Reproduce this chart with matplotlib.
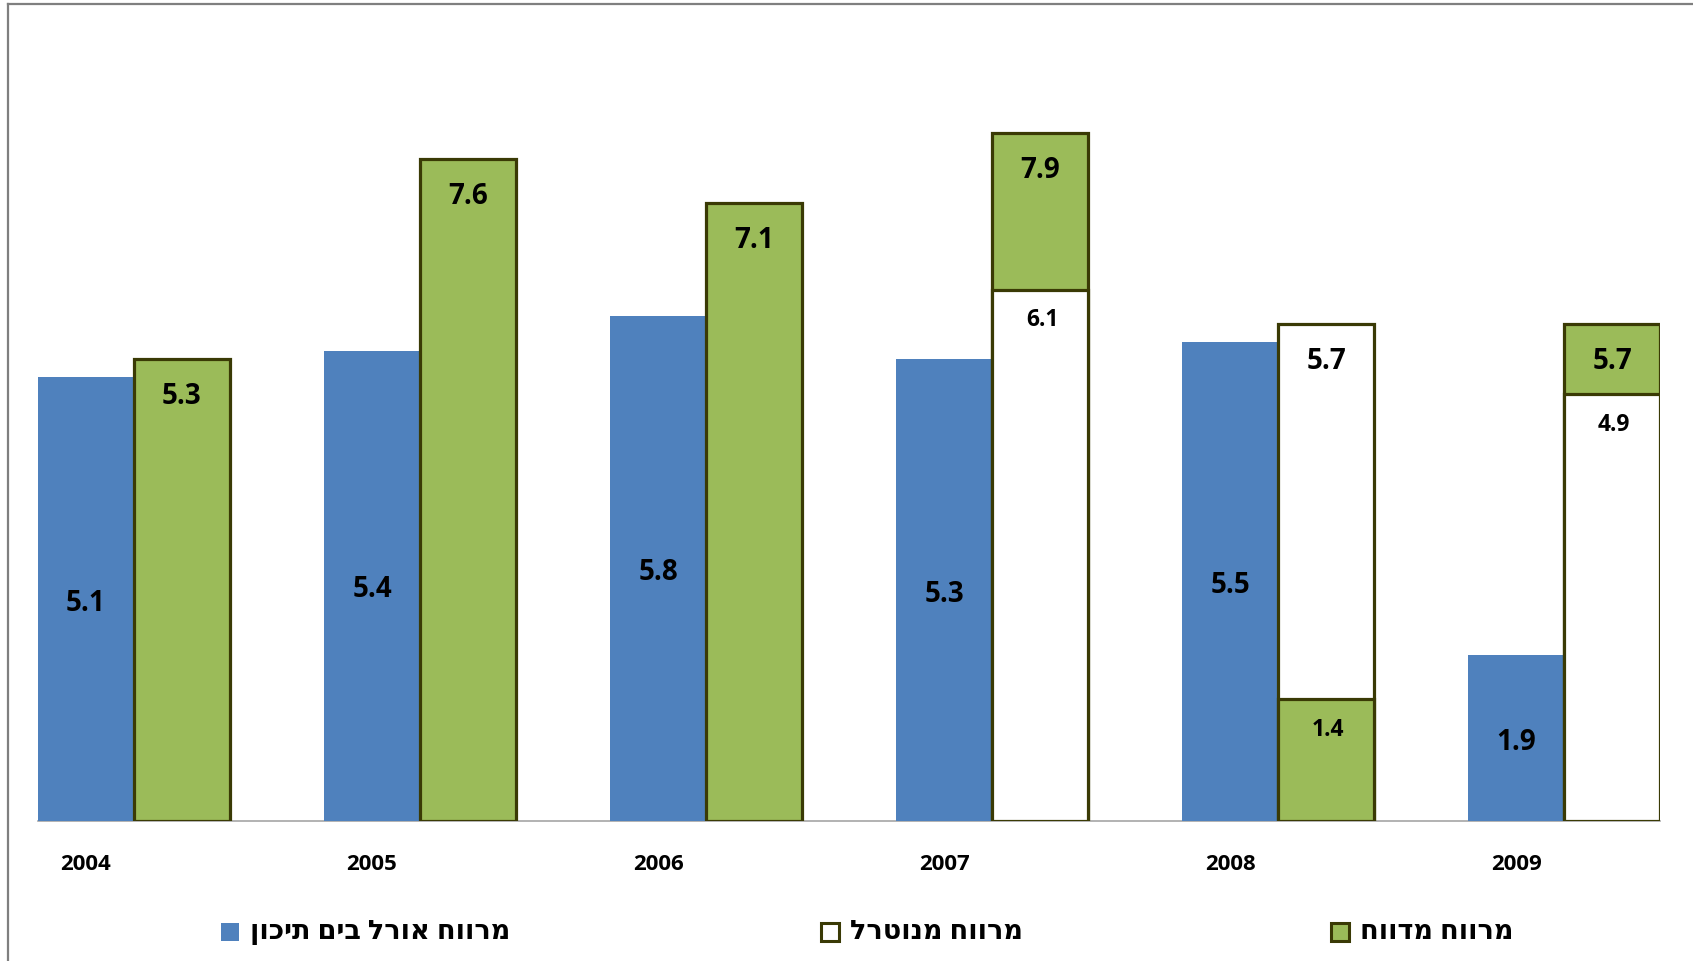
import numpy as np
import matplotlib.pyplot as plt
from matplotlib.patches import Rectangle
from matplotlib.lines import Line2D

plt.rcParams['font.family'] = ['Open Sans', 'DejaVu Sans']

years = ['2004', '2005', '2006', '2007', '2008', '2009']
orl = [5.1, 5.4, 5.8, 5.3, 5.5, 1.9]
reported = [5.3, 7.6, 7.1, 7.9, 1.4, 5.7]
neutral = [None, None, None, 6.1, 5.7, 4.9]

legend_names = ['מרווח אורל בים תיכון', 'מרווח מנוטרל', 'מרווח מדווח']

BLUE = '#4F81BD'
GREEN = '#9BBB59'
EDGE = '#3A3A05'


def heb(s):
    # matplotlib has no bidi support, so flip the Hebrew text by hand
    return s[::-1]


W, H = 1693, 961
fig = plt.figure(figsize=(W / 100, H / 100), dpi=100)
ax = fig.add_axes([38 / W, (H - 821) / H, (1660 - 38) / W, (821 - 37) / H])

x = np.arange(len(years))
w = 0.335

ax.bar(x - w / 2, orl, w, color=BLUE, linewidth=0, zorder=2)
for i in range(len(years)):
    ax.annotate(f'{orl[i]:.1f}', (x[i] - w / 2, orl[i] / 2), xytext=(0, -3),
                textcoords='offset points', ha='center', va='center',
                fontsize=20, fontweight='bold', zorder=5)

for i in range(len(years)):
    segs = [(reported[i], GREEN), (neutral[i], 'white')]
    segs = [s for s in segs if s[0] is not None]
    segs.sort(key=lambda s: -s[0])
    for k, (v, c) in enumerate(segs):
        ax.bar(x[i] + w / 2, v, w, color=c, edgecolor=EDGE, linewidth=2.3, zorder=3 + k)
        big = k == 0
        ax.annotate(f'{v:.1f}', (x[i] + w / 2, v), xytext=(0 if big else 1.5, -27 if big else -22),
                    textcoords='offset points', ha='center', va='center',
                    fontsize=20 if big else 16.5, fontweight='bold', zorder=6)

for i in range(len(years)):
    ax.annotate(years[i], (x[i] - w / 2, 0), xytext=(0, -31), textcoords='offset points',
                ha='center', va='center', fontsize=16, fontweight='bold',
                xycoords=ax.get_xaxis_transform())

ax.set_xlim(-w, len(years) - 1 + w)
ax.set_ylim(0, 9)
ax.set_xticks([])
ax.set_yticks([])
for side in ['top', 'right', 'left']:
    ax.spines[side].set_visible(False)
ax.spines['bottom'].set_color('#A6A6A6')
ax.spines['bottom'].set_linewidth(1.2)
ax.spines['bottom'].set_zorder(1)

# legend drawn by hand, Excel style
leg_y = (H - 932) / H
sq = 18
handles = [(221, BLUE, None), (821, 'white', EDGE), (1331, GREEN, EDGE)]
for (lx, fc, ec), name in zip(handles, legend_names):
    fig.add_artist(Rectangle((lx / W, leg_y - sq / 2 / H), sq / W, sq / H,
                             transform=fig.transFigure, facecolor=fc,
                             edgecolor=ec if ec else fc, linewidth=2.2 if ec else 0))
    fig.text((lx + sq + 11) / W, leg_y, heb(name), ha='left', va='center',
             fontsize=19.5, fontweight='bold')

# chart border (cropped at right and bottom)
fig.add_artist(Line2D([8 / W, 8 / W], [0, (H - 4) / H], transform=fig.transFigure,
                      color='#7F7F7F', linewidth=1.6))
fig.add_artist(Line2D([8 / W, 1], [(H - 4) / H, (H - 4) / H], transform=fig.transFigure,
                      color='#7F7F7F', linewidth=1.6))

fig.savefig('out.png', dpi=100)
